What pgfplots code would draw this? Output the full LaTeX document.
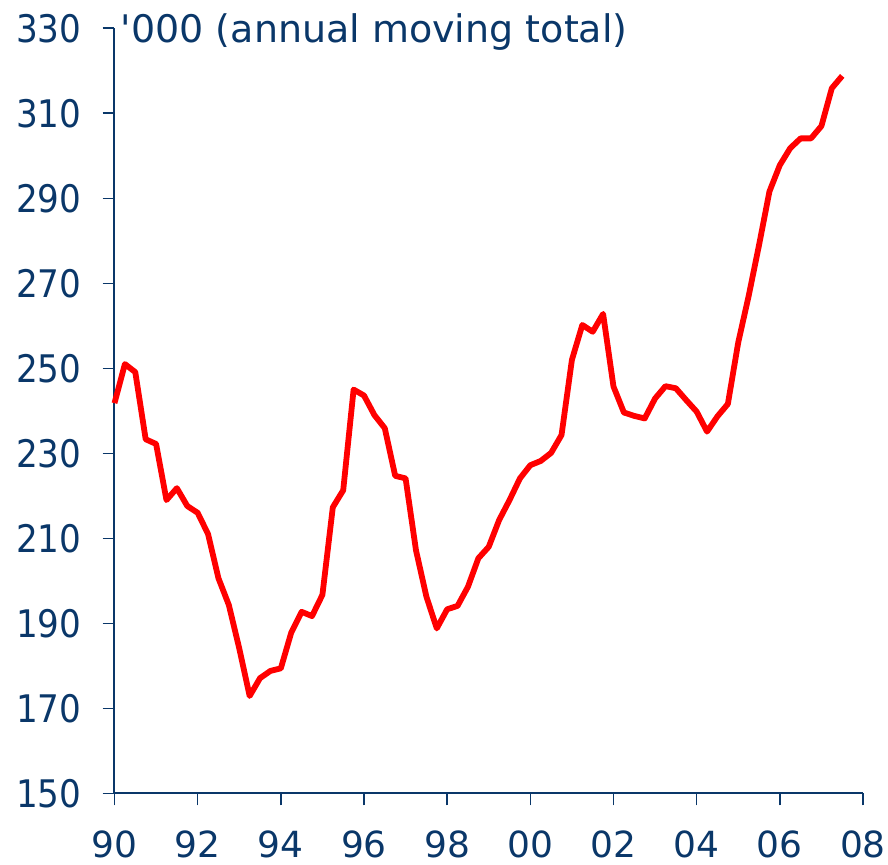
\documentclass[border=0pt]{standalone}
\usepackage{pgfplots}
\pgfplotsset{compat=1.18}
\usepackage{fontspec}
\setmainfont{DejaVu Sans}
\newfontfamily\ytickfont[FakeStretch=0.9]{DejaVu Sans}
\definecolor{navy}{RGB}{10,55,105}
\definecolor{lred}{RGB}{255,0,0}
\begin{document}
\begin{tikzpicture}
\begin{axis}[
  at={(0,0)}, anchor=south west,
  scale only axis,
  width=374.25pt, height=382.5pt,
  xmin=1990, xmax=2008, ymin=150, ymax=330,
  axis lines=left,
  axis line style={navy, line width=1pt, -},
  xtick={1990,1992,...,2008},
  xticklabels={90,92,94,96,98,00,02,04,06,08},
  ytick={150,170,...,330},
  tick style={navy, line width=0.8pt},
  major tick length=6pt,
  tick align=outside,
  every tick label/.append style={text=navy},
  xticklabel style={font=\fontsize{18}{21}\selectfont, yshift=-9pt},
  yticklabel style={font=\ytickfont\fontsize{19}{22}\selectfont, xshift=-7pt},
  /pgf/number format/assume math mode=true,
  clip=false,
]
\addplot[lred, line width=2.9pt, line join=round] coordinates {
(1990.00,241.8) (1990.25,251.0) (1990.50,249.1) (1990.75,233.3)
(1991.00,232.2) (1991.25,219.0) (1991.50,221.8) (1991.75,217.6)
(1992.00,216.0) (1992.25,211.0) (1992.50,200.6) (1992.75,194.3)
(1993.00,184.1) (1993.25,172.9) (1993.50,177.1) (1993.75,178.8)
(1994.00,179.4) (1994.25,187.8) (1994.50,192.7) (1994.75,191.7)
(1995.00,196.7) (1995.25,217.3) (1995.50,221.3) (1995.75,245.0)
(1996.00,243.6) (1996.25,239.0) (1996.50,235.9) (1996.75,224.7)
(1997.00,224.1) (1997.25,207.2) (1997.50,196.3) (1997.75,188.8)
(1998.00,193.3) (1998.25,194.1) (1998.50,198.6) (1998.75,205.3)
(1999.00,208.0) (1999.25,214.3) (1999.50,219.0) (1999.75,224.1)
(2000.00,227.2) (2000.25,228.2) (2000.50,230.1) (2000.75,234.3)
(2001.00,252.0) (2001.25,260.2) (2001.50,258.6) (2001.75,262.8)
(2002.00,245.7) (2002.25,239.6) (2002.50,238.8) (2002.75,238.2)
(2003.00,242.9) (2003.25,245.8) (2003.50,245.3) (2003.75,242.5)
(2004.00,239.8) (2004.25,235.1) (2004.50,238.7) (2004.75,241.6)
(2005.00,256.1) (2005.25,267.0) (2005.50,279.0) (2005.75,291.6)
(2006.00,297.8) (2006.25,301.8) (2006.50,304.1) (2006.75,304.1)
(2007.00,307.0) (2007.25,315.9) (2007.50,318.8)
};
\node[anchor=base west, text=navy, font=\fontsize{19}{22}\selectfont, inner sep=0pt] at (rel axis cs:0,1) [xshift=3pt, yshift=-7.2pt] {\textquotesingle000 (annual moving total)};
\end{axis}
\pgfresetboundingbox
\path[use as bounding box] (-57.25pt,-35.35pt) rectangle (386.75pt,396.65pt);
\end{tikzpicture}
\end{document}
